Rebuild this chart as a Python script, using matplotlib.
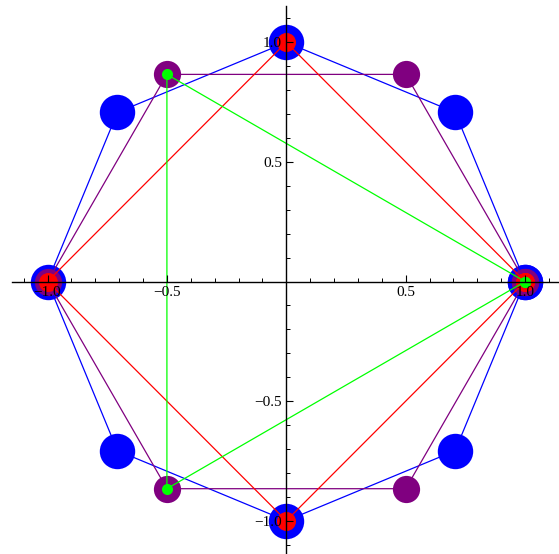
import numpy as np
import matplotlib
matplotlib.use("Agg")
from matplotlib import pyplot as plt
from matplotlib.ticker import MultipleLocator, FixedLocator

# vertex angles (degrees) of each polygon on the unit circle
octagon_angles = [0, 45, 90, 135, 180, 225, 270, 315]
hexagon_angles = [0, 60, 120, 180, 240, 300]
square_angles = [0, 90, 180, 270]
triangle_angles = [0, 120, 240]

polygons = [octagon_angles, hexagon_angles, square_angles, triangle_angles]
colors = ["#0000ff", "#800080", "#ff0000", "#00ff00"]
marker_sizes = [25.5, 19.6, 13.7, 8.0]

tick_values = [-1.0, -0.5, 0.5, 1.0]

fig = plt.figure(figsize=(5.59, 5.54), dpi=100)
ax = fig.add_axes([0, 0, 1, 1])

for angles, col, ms in zip(polygons, colors, marker_sizes):
    a = np.radians(angles + [angles[0]])
    ax.plot(np.cos(a), np.sin(a), color=col, lw=0.9, marker="o", ms=ms,
            mec="none", mfc=col, zorder=2)

ax.set_xlim(-1.199, 1.142)
ax.set_ylim(-1.139, 1.177)

for s in ["top", "right"]:
    ax.spines[s].set_visible(False)
ax.spines["left"].set_position(("data", 0))
ax.spines["bottom"].set_position(("data", 0))
ax.spines["bottom"].set_bounds(-1.148, 1.142)
ax.spines["left"].set_bounds(-1.139, 1.152)
ax.spines["left"].set_linewidth(1.0)
ax.spines["bottom"].set_linewidth(1.0)
ax.set_axisbelow(False)

ax.xaxis.set_major_locator(FixedLocator(tick_values))
ax.yaxis.set_major_locator(FixedLocator(tick_values))
ax.xaxis.set_minor_locator(MultipleLocator(0.1))
ax.yaxis.set_minor_locator(MultipleLocator(0.1))
ax.set_xticklabels([f"{v:.1f}".replace("-", "\u2212") for v in tick_values])
ax.set_yticklabels([f"{v:.1f}".replace("-", "\u2212") for v in tick_values])

ax.tick_params(which="major", direction="in", length=5, width=0.8, pad=3,
               labelsize=11)
ax.tick_params(which="minor", direction="in", length=2.8, width=0.7)
for lab in ax.get_xticklabels() + ax.get_yticklabels():
    lab.set_fontfamily("Liberation Serif")

fig.savefig("out.png", dpi=100)
